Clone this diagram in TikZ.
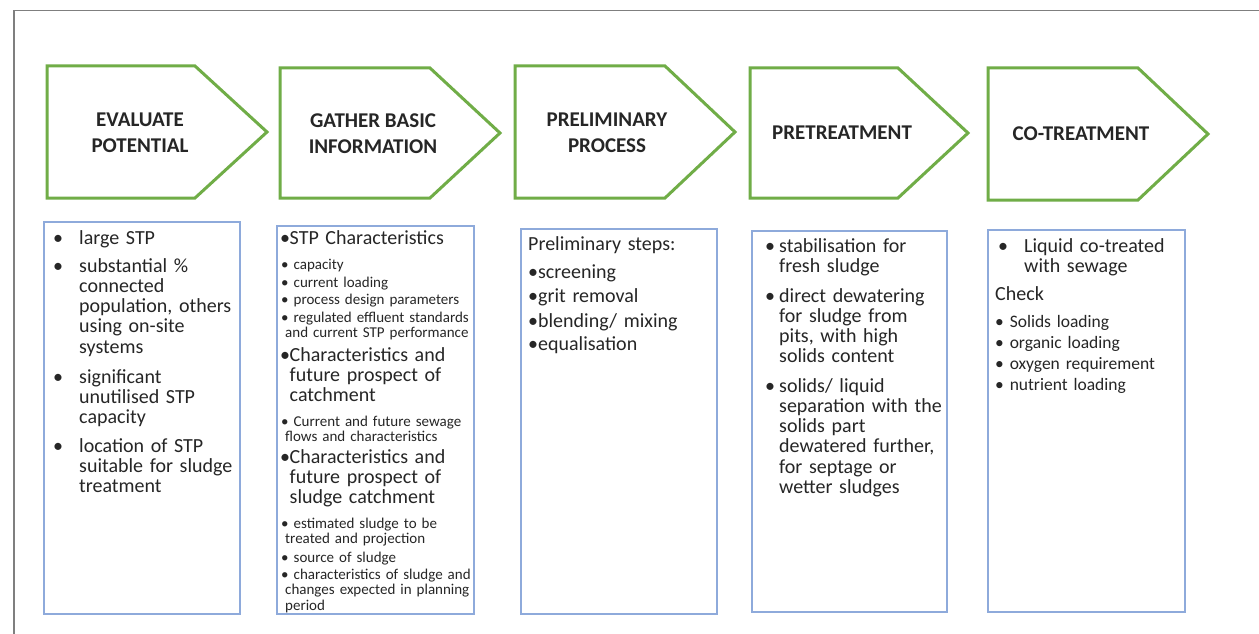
\documentclass[tikz,border=0pt]{standalone}
\usepackage{fontspec}
\setmainfont{Carlito}
\definecolor{arrowgreen}{HTML}{70AD47}
\definecolor{boxblue}{HTML}{8EAADB}
\definecolor{framegray}{HTML}{7F7F7F}
\definecolor{textc}{HTML}{262626}
\newcommand{\bl}[2]{\makebox[#1][l]{\textbullet}\parbox[t]{210pt}{#2}}
\begin{document}
\begin{tikzpicture}[x=1pt,y=-1pt,
  chev/.style={draw=arrowgreen, line width=3pt, line join=miter},
  hdr/.style={font=\bfseries\fontsize{21}{26}\selectfont, align=center, text=textc, inner sep=0pt},
  infobox/.style={draw=boxblue, line width=1.5pt},
  big/.style={anchor=base west, inner sep=0pt, text width=240pt, text=textc, font=\fontsize{20}{20.3}\selectfont},
  small/.style={anchor=base west, inner sep=0pt, text width=240pt, text=textc, font=\fontsize{15}{15.5}\selectfont},
  mid/.style={anchor=base west, inner sep=0pt, text width=240pt, text=textc, font=\fontsize{17.5}{21}\selectfont}]
\useasboundingbox (0,0) rectangle (1259,634);
\fill[white] (0,0) rectangle (1259,634);
% outer frame
\draw[framegray, line width=1.3pt] (14,634) -- (14,10.5) -- (1259,10.5);
% chevrons
\draw[chev] (47,66) -- (195,66) -- (267,132) -- (195,198) -- (47,198) -- cycle;
\draw[chev] (280,68) -- (430,68) -- (500,133) -- (430,198) -- (280,198) -- cycle;
\draw[chev] (515,66) -- (665,66) -- (735,132) -- (665,198) -- (515,198) -- cycle;
\draw[chev] (750,68) -- (898,68) -- (968,133) -- (898,198) -- (750,198) -- cycle;
\draw[chev] (988,68) -- (1138,68) -- (1208,134) -- (1138,200) -- (988,200) -- cycle;
\node[hdr] (h1) at (140,133) {EVALUATE\\POTENTIAL};
\node[hdr] (h2) at (373,134) {GATHER BASIC\\INFORMATION};
\node[hdr] (h3) at (607,133) {PRELIMINARY\\PROCESS};
\node[hdr] (h4) at (842,133) {PRETREATMENT};
\node[hdr] (h5) at (1081,134) {CO-TREATMENT};
% boxes
\draw[infobox] (44,222) rectangle (240,614);
\draw[infobox] (277,226) rectangle (474,614);
\draw[infobox] (521,229) rectangle (717,614);
\draw[infobox] (752,231) rectangle (947,612);
\draw[infobox] (988,230) rectangle (1185,612);
% box 1
\node[big] (a1) at (53,244) {\bl{26pt}{large STP}};
\node[big] (a2) at (53,272) {\bl{26pt}{substantial \%\\connected\\population, others\\using on-site\\systems}};
\node[big] (a3) at (53,383) {\bl{26pt}{significant\\unutilised STP\\capacity}};
\node[big] (a4) at (53,452) {\bl{26pt}{location of STP\\suitable for sludge\\treatment}};
% box 2
\node[big] (b1) at (280,244) {\bl{9.5pt}{STP Characteristics}};
\node[small] (b2) at (281,269) {\textbullet\ capacity};
\node[small] (b3) at (281,287) {\textbullet\ current loading};
\node[small] (b4) at (281,304) {\textbullet\ process design parameters};
\node[small] (b5) at (281,322) {\textbullet\ regulated effluent standards\\\hspace*{4pt}and current STP performance};
\node[big] (b6) at (280,361) {\bl{9.5pt}{Characteristics and\\future prospect of\\catchment}};
\node[small] (b7) at (281,426) {\textbullet\ Current and future sewage\\\hspace*{4pt}flows and characteristics};
\node[big] (b8) at (280,463) {\bl{9.5pt}{Characteristics and\\future prospect of\\sludge catchment}};
\node[small] (b9) at (281,528) {\textbullet\ estimated sludge to be\\\hspace*{4pt}treated and projection};
\node[small] (b10) at (281,562) {\textbullet\ source of sludge};
\node[small] (b11) at (281,579) {\textbullet\ characteristics of sludge and\\\hspace*{4pt}changes expected in planning\\\hspace*{4pt}period};
% box 3
\node[big] (c1) at (528,250) {Preliminary steps:};
\node[big] (c2) at (528,278) {\textbullet screening};
\node[big] (c3) at (528,302) {\textbullet grit removal};
\node[big] (c4) at (528,327) {\textbullet blending/ mixing};
\node[big] (c5) at (528,350) {\textbullet equalisation};
% box 4
\node[big] (d1) at (765,252) {\bl{14pt}{stabilisation for\\fresh sludge}};
\node[big] (d2) at (765,302) {\bl{14pt}{direct dewatering\\for sludge from\\pits, with high\\solids content}};
\node[big] (d3) at (765,392) {\bl{14pt}{solids/ liquid\\separation with the\\solids part\\dewatered further,\\for septage or\\wetter sludges}};
% box 5
\node[big] (e1) at (998,252) {\bl{26pt}{Liquid co-treated\\with sewage}};
\node[big] (e2) at (995,300) {Check};
\node[mid] (e3) at (995,327) {\textbullet\ Solids loading};
\node[mid] (e4) at (995,348) {\textbullet\ organic loading};
\node[mid] (e5) at (995,369) {\textbullet\ oxygen requirement};
\node[mid] (e6) at (995,390) {\textbullet\ nutrient loading};
\end{tikzpicture}
\end{document}
